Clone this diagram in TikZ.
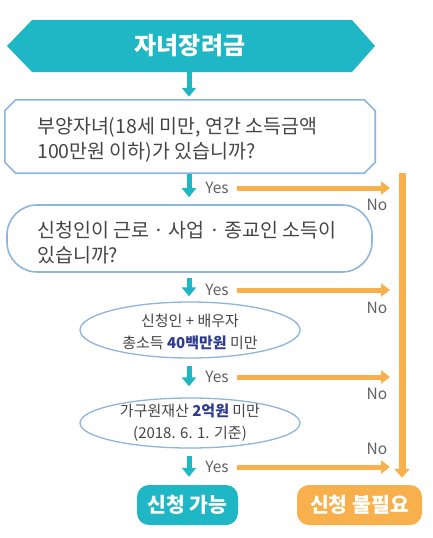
\documentclass[tikz,border=0pt]{standalone}
\usepackage{fontspec}
\setmainfont{Noto Sans CJK KR}
\usetikzlibrary{shapes.geometric,arrows.meta}
\definecolor{tealc}{HTML}{1FB6C5}
\definecolor{orgc}{HTML}{F7B04B}
\definecolor{bordc}{HTML}{8DB5DD}
\definecolor{txtc}{HTML}{454545}
\definecolor{hlc}{HTML}{2E3C8F}
\tikzset{
  tarr/.style={draw=tealc, line width=5pt, -{Triangle[width=14pt,length=9pt]}},
  oarr/.style={draw=orgc, line width=5pt, -{Triangle[width=13pt,length=9pt]}},
  qbox/.style={draw=bordc, line width=1.6pt, fill=white, inner sep=0pt},
  qtext/.style={text=txtc, font=\fontsize{19.5}{25}\selectfont, align=left, anchor=west, inner sep=0pt},
  etext/.style={text=txtc, font=\fontsize{15}{22}\selectfont, align=center, inner sep=0pt},
  lbl/.style={text=txtc!85, font=\fontsize{15.5}{15.5}\selectfont, inner sep=0pt},
  endbox/.style={rounded corners=12pt, text=white, font=\bfseries\fontsize{20.5}{20.5}\selectfont, inner sep=0pt, minimum height=40pt}
}
\begin{document}
\begin{tikzpicture}[x=1pt,y=-1pt]
\useasboundingbox[fill=white] (0,0) rectangle (433,538);
% title
\fill[tealc] (7,46) -- (32,20) -- (352,20) -- (375,46) -- (352,72) -- (32,72) -- cycle;
\node[text=white, font=\bfseries\fontsize{24}{24}\selectfont, inner sep=0pt] (title) at (190,46) {자녀장려금};
\coordinate (tbot) at (189,72);
% question 1 (chamfered box)
\node[inner sep=0pt, minimum width=370pt, minimum height=73pt] (b1) at (190,136.5) {};
\draw[qbox] ([xshift=11pt]b1.north west) -- ([xshift=-11pt]b1.north east) -- ([yshift=-11pt]b1.north east)
  -- ([yshift=11pt]b1.south east) -- ([xshift=-11pt]b1.south east) -- ([xshift=11pt]b1.south west)
  -- ([yshift=11pt]b1.south west) -- ([yshift=-11pt]b1.north west) -- cycle;
\node[qtext] (b1t) at (37,140) {부양자녀(18세 미만, 연간 소득금액\\100만원 이하)가 있습니까?};
% question 2
\node[qbox, rectangle, rounded corners=30pt, minimum width=365pt, minimum height=67pt] (b2) at (189.5,238.5) {};
\node[qtext] (b2t) at (37,243) {신청인이 근로 · 사업 · 종교인 소득이\\있습니까?};
% ellipse 1
\node[qbox, ellipse, line width=1.3pt, minimum width=220pt, minimum height=56pt] (e1) at (190,330) {};
\node[etext] (e1t) at (190,332) {신청인 + 배우자\\총소득 \textbf{\textcolor{hlc}{40백만원}} 미만};
% ellipse 2
\node[qbox, ellipse, line width=1.3pt, minimum width=220pt, minimum height=50pt] (e2) at (190,423) {};
\node[etext] (e2t) at (190,423) {가구원재산 \textbf{\textcolor{hlc}{2억원}} 미만\\(2018. 6. 1. 기준)};
% end boxes
\node[endbox, fill=tealc, minimum width=101pt] (yes) at (187.5,505) {신청 가능};
\node[endbox, fill=orgc, minimum width=125pt] (no) at (359.5,505) {신청 불필요};
% teal arrows
\draw[tarr, shorten >=3pt] (tbot) -- (tbot |- b1.north);
\draw[tarr, shorten <=1pt, shorten >=7pt] (b1.south -| tbot) -- (b2.north -| tbot);
\draw[tarr, shorten <=5pt, shorten >=5pt] (b2.south -| tbot) -- (e1.north -| tbot);
\draw[tarr, shorten <=7pt, shorten >=11pt] (e1.south -| tbot) -- (e2.north -| tbot);
\draw[tarr, shorten <=7pt, shorten >=8pt] (e2.south -| tbot) -- (yes.north -| tbot);
% yes labels
\node[lbl] (y1) at (217,188) {Yes};
\node[lbl] (y2) at (217,290) {Yes};
\node[lbl] (y3) at (217,377) {Yes};
\node[lbl] (y4) at (217,467) {Yes};
% orange
\coordinate (vtop) at (402,173);
\draw[oarr, line width=7pt, -{Triangle[width=15pt,length=9pt]}, shorten >=7pt] (vtop) -- (vtop |- no.north);
\foreach \n/\yy in {1/188,2/290,3/377,4/467}{
  \coordinate (os\n) at (237,\yy);
  \coordinate (oe\n) at (390,\yy);
  \draw[oarr] (os\n) -- (oe\n);
}
\node[lbl] (n1) at (377,205) {No};
\node[lbl] (n2) at (377,308) {No};
\node[lbl] (n3) at (377,394) {No};
\node[lbl] (n4) at (377,449) {No};
\end{tikzpicture}
\end{document}
